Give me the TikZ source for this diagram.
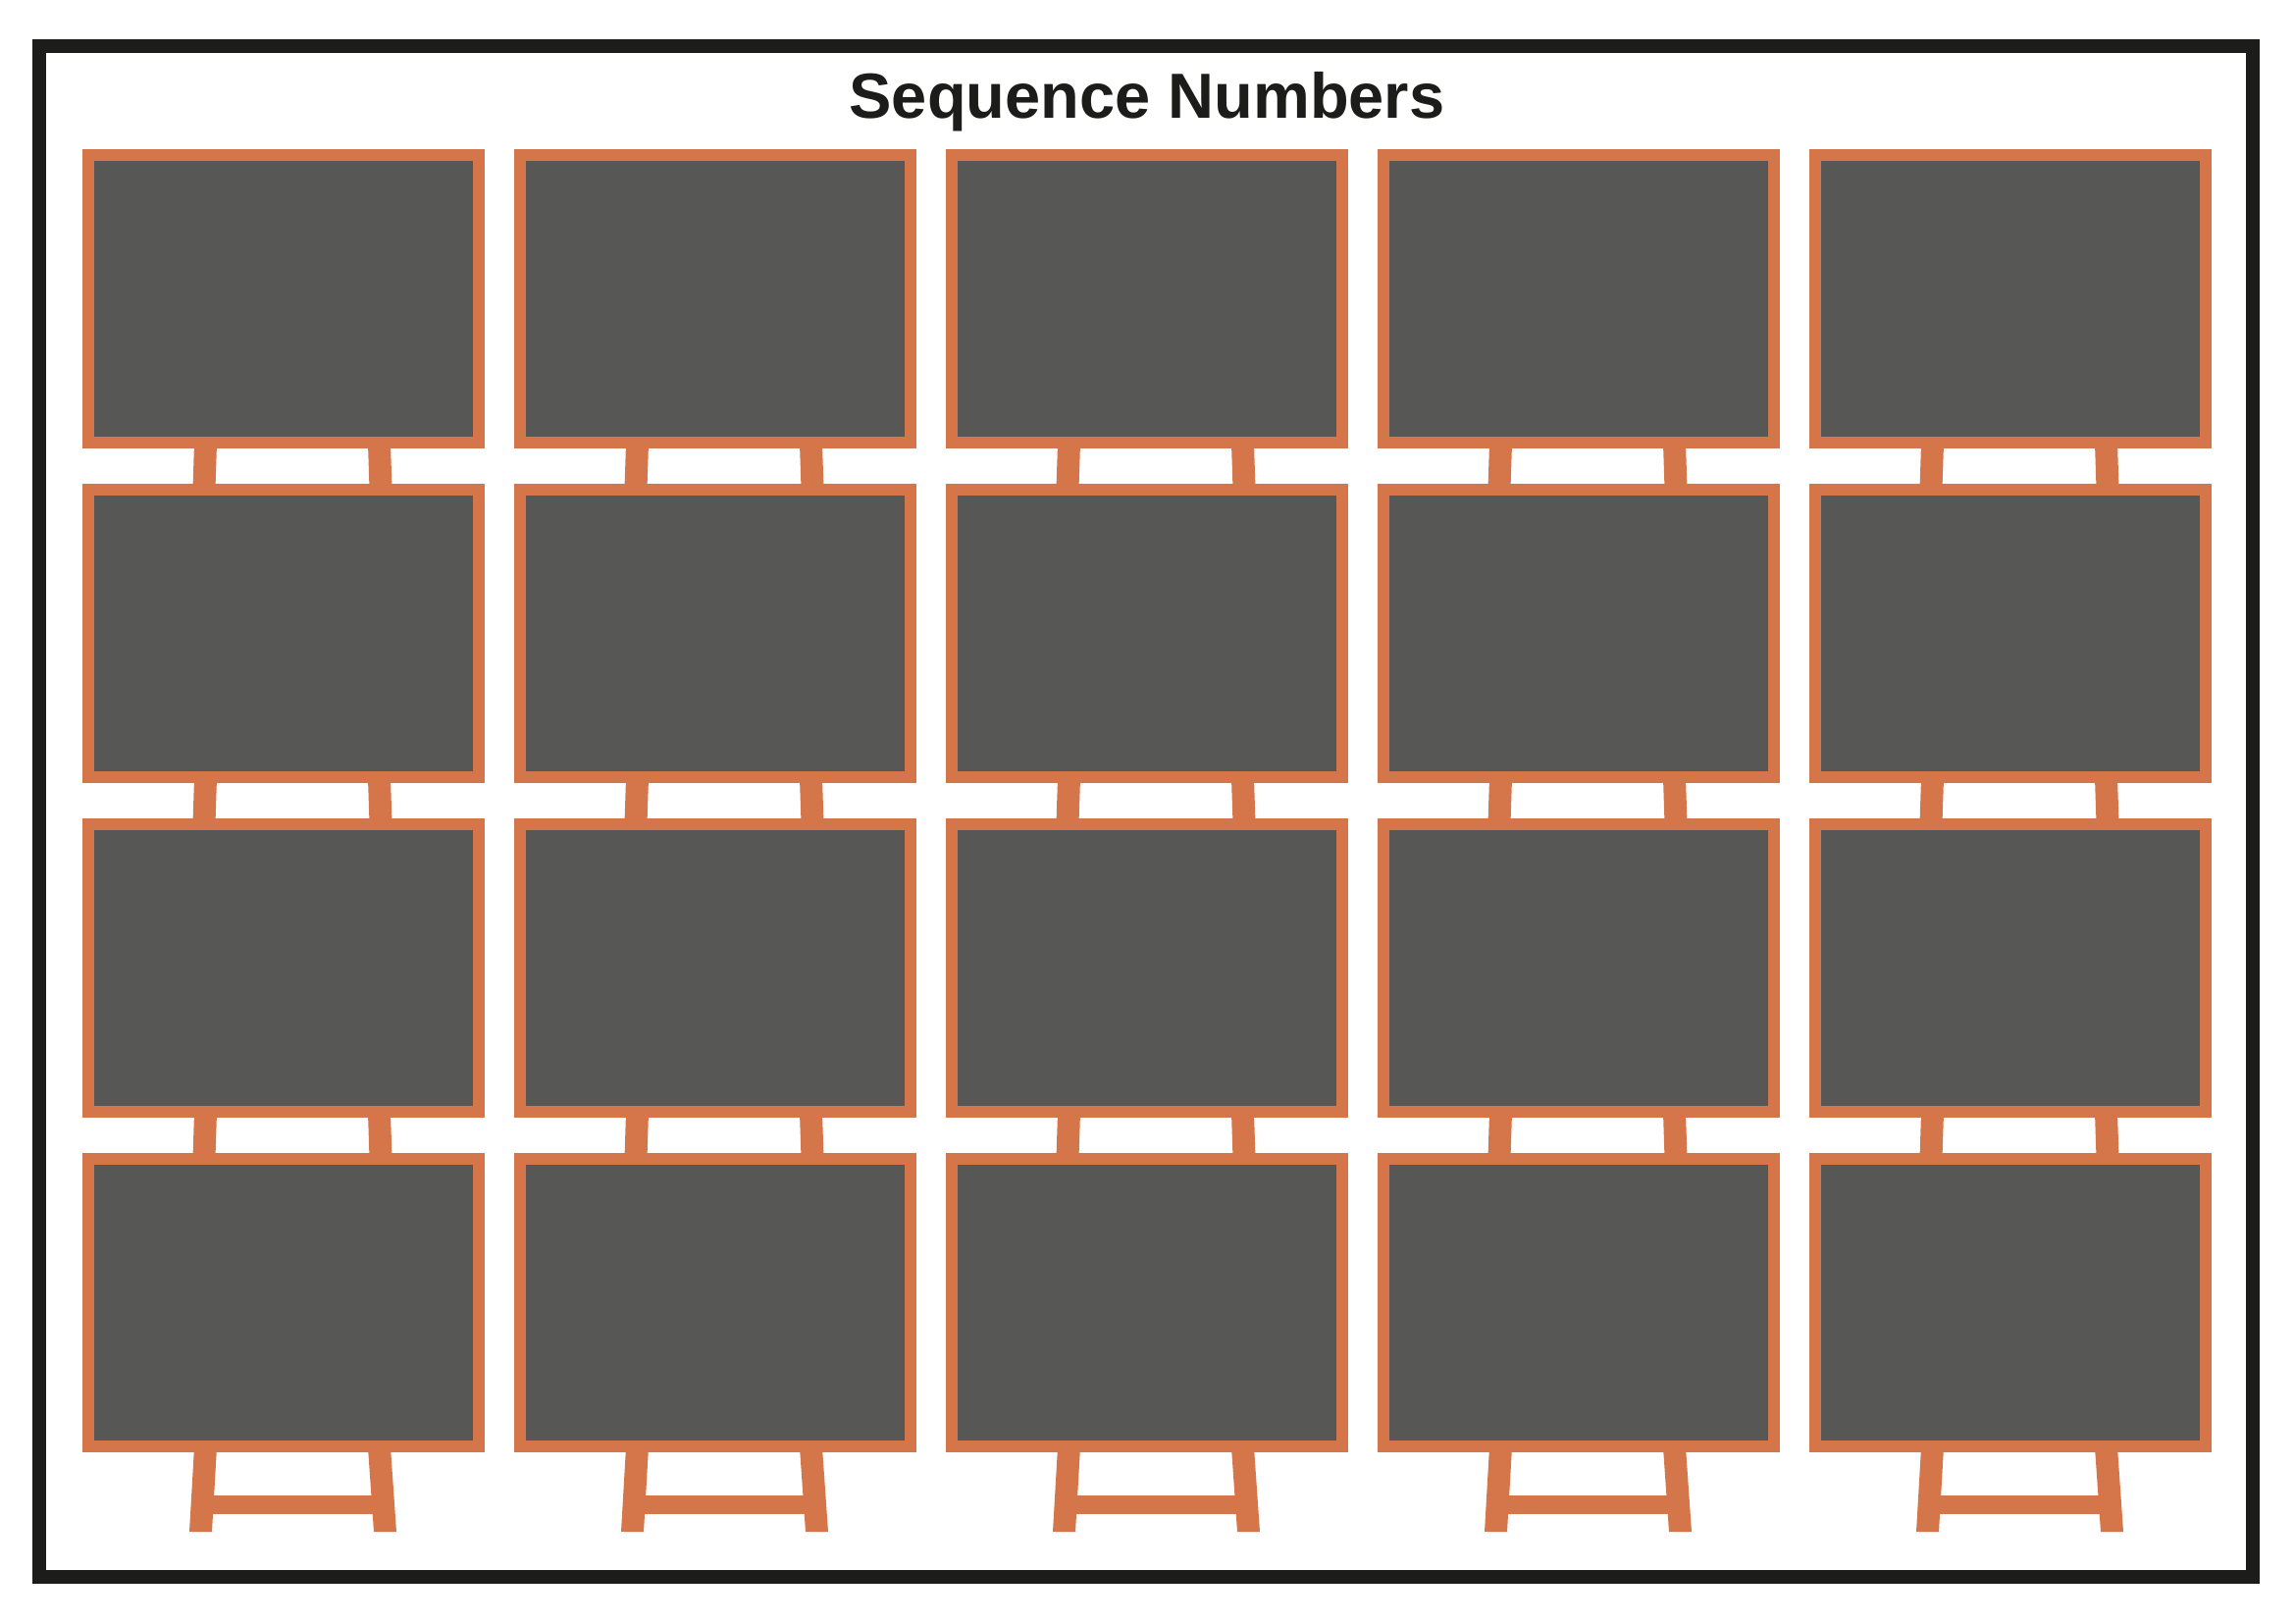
\documentclass[tikz,border=0pt]{standalone}
\usepackage{fontspec}
\setmainfont{Liberation Sans}
\definecolor{wood}{RGB}{212,118,74}
\definecolor{board}{RGB}{87,87,85}
\definecolor{frame}{RGB}{28,28,26}
\begin{document}
\begin{tikzpicture}[x=1pt,y=-1pt,
  panel/.style={draw=wood,fill=board,line width=12pt,inner sep=0pt,minimum width=398pt,minimum height=293pt,anchor=north west},
  leg/.style={fill=wood}]
\useasboundingbox (0,0) rectangle (2339,1654);
\fill[white] (0,0) rectangle (2339,1654);
\draw[frame,line width=14pt] (40,47) rectangle (2296,1607);
\node[font=\bfseries\fontsize{65}{70}\selectfont,text=frame] (title) at (1169,104) {Sequence Numbers};
\foreach \c in {0,...,4}{
  \pgfmathsetmacro{\x}{84+440*\c}
  \foreach \r in {0,1,2}{
    \pgfmathsetmacro{\t}{152+341*\r}
    \fill[leg] (\x+114,\t+300) -- (\x+137,\t+300) -- (\x+135.5,\t+346) -- (\x+112.5,\t+346) -- cycle;
    \fill[leg] (\x+291,\t+300) -- (\x+314,\t+300) -- (\x+315.5,\t+346) -- (\x+292.5,\t+346) -- cycle;
  }
  \fill[leg] (\x+114,1475) -- (\x+137,1475) -- (\x+132,1561) -- (\x+109,1561) -- cycle;
  \fill[leg] (\x+291,1475) -- (\x+314,1475) -- (\x+320,1561) -- (\x+297,1561) -- cycle;
  \fill[leg] (\x+128,1524) rectangle (\x+305,1543);
  \foreach \r in {0,...,3}{
    \pgfmathsetmacro{\t}{152+341*\r}
    \node[panel] (p\c\r) at (\x,\t) {};
  }
}
\end{tikzpicture}
\end{document}
